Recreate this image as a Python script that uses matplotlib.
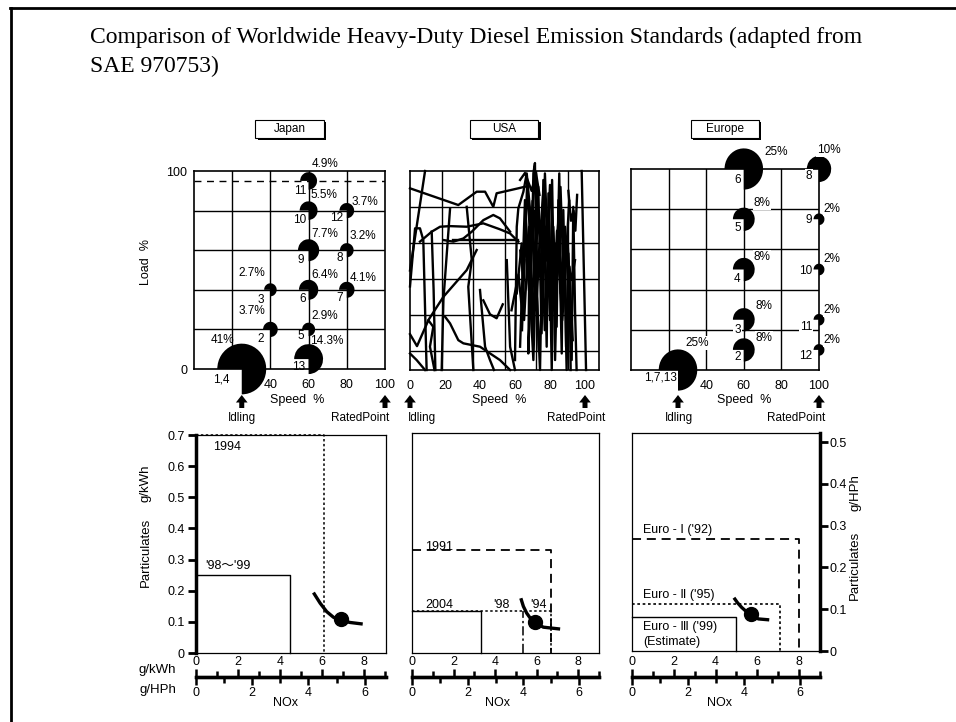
import numpy as np
import matplotlib
matplotlib.use("Agg")
import matplotlib.pyplot as plt
from matplotlib.patches import Wedge, Rectangle
from matplotlib.lines import Line2D
from matplotlib import transforms

W, H = 956, 722
plt.rcParams["font.family"] = ["Liberation Sans", "DejaVu Sans", "Noto Sans CJK JP"]
plt.rcParams["font.size"] = 9

# ---------------- 13-mode steady-state cycles ----------------
jp_modes = ["1,4", "2", "3", "5", "6", "7", "8", "9", "10", "11", "12", "13"]
jp_speed = [25, 40, 40, 60, 60, 80, 80, 60, 60, 60, 80, 60]
jp_load = [0, 20, 40, 20, 40, 40, 60, 60, 80, 95, 80, 5]
jp_weight = [41, 3.7, 2.7, 2.9, 6.4, 4.1, 3.2, 7.7, 5.5, 4.9, 3.7, 14.3]
jp_full_load = 95

eu_modes = ["1,7,13", "2", "3", "4", "5", "6", "8", "9", "10", "11", "12"]
eu_speed = [25, 60, 60, 60, 60, 60, 100, 100, 100, 100, 100]
eu_load = [0, 10, 25, 50, 75, 100, 100, 75, 50, 25, 10]
eu_weight = [25, 8, 8, 8, 8, 25, 10, 2, 2, 2, 2]

# ---------------- US transient cycle (speed %, load %) ----------------
usa_trace = [
    [(0, 91.3), (27.6, 82.9), (38.1, 89.6), (42.9, 89.6), (47.6, 82), (49.5, 88.8), (61.9, 91.3), (65.7, 92.1)],
    [(8.6, 100), (0, 50)],
    [(0, 42), (2.9, 71.2), (5.7, 71.2), (7.6, 65.3), (9.5, 0)],
    [(5.7, 64.5), (12.4, 69.5), (17.2, 72), (22.9, 72.3), (32.4, 72), (41.9, 73.7), (51.4, 70.7), (57.2, 68.6), (61.9, 64.5)],
    [(19.1, 65.3), (24.8, 64.5), (30.5, 66.1), (35.3, 69.5), (41.9, 75.3), (47.6, 77.9), (51.4, 76.2), (57.2, 69.5)],
    [(24.8, 65.3), (61.9, 65.3)],
    [(22.9, 81.2), (19.1, 35.2), (18.1, 0)],
    [(32.4, 82), (35.3, 55.2), (33.3, 41.8), (36.2, 0)],
    [(0, 8.3), (3.8, 5), (8.6, 0)],
    [(0, 18), (4, 12), (10.5, 25), (13.3, 21.7), (11.4, 11.7), (14, 0)],
    [(12.4, 69.5), (13.5, 40), (14.5, 0)],
    [(10.5, 25.1), (19.1, 36.8), (32.4, 50.2), (38.1, 60.3)],
    [(20, 26.8), (22.9, 23.4), (27.6, 15), (30.5, 13.4), (40, 11.7), (51.4, 5), (57.2, 0)],
    [(40, 40.2), (42.9, 11.7), (45.7, 5), (48, 0)],
    [(41.9, 35), (45.7, 28), (49.5, 26), (53, 33)],
    [(55.3, 55.2), (57.2, 11.7), (60, 0)],
    [(60, 5), (61, 72), (61.9, 81.2), (64.8, 89.6), (66.7, 98.8), (68.6, 80.4), (67.6, 8.3), (69.5, 55.2),
     (70.5, 98.8), (71.4, 104), (72.4, 38.5), (74.3, 0), (76.2, 95.5), (78.1, 11.7), (79.1, 88.8), (81, 0),
     (81.9, 72), (83.8, 21.7), (84.8, 85.4), (86.7, 8.3), (87.6, 80.4), (89.5, 0), (90.5, 58.6), (92.4, 5),
     (93.3, 82), (94.3, 30.1), (95.2, 0)],
    [(62.9, 11.7), (65.7, 85.4), (70.5, 5), (73.3, 92.1), (75.2, 18.4), (77.1, 98.8), (80, 25.1), (81.2, 95.5),
     (82.9, 5), (85.3, 98.8), (86.1, 38.5), (88.6, 72), (89.2, 11.7), (91.1, 51.9), (91.8, 0)],
    [(98.1, 100), (100.6, 0)],
    [(66.7, 55.2), (69.5, 30.1), (71.4, 63.6), (74.3, 46.9), (77.1, 72), (80, 41.8), (82.9, 63.6), (85.7, 46.9),
     (89.5, 58.6), (92.4, 45.2), (94.3, 55.2)],
    [(61, 38.5), (63.8, 63.6), (65.2, 25.1), (68.1, 72), (70, 18.4), (72, 60), (73.5, 10)],
    [(90.5, 90), (92, 75), (93.5, 80), (94.5, 70), (95.5, 88)],
    [(62.9, 95.5), (65.7, 99), (69.5, 90), (72, 99), (74, 88)],
    [(64, 20), (66, 70), (68, 40), (70, 85), (72, 30), (75, 75), (77, 20), (79, 60), (82, 30), (84, 70), (87, 25),
     (90, 65), (93, 15)],
    [(63, 60), (65, 45), (67, 95), (69, 60), (71, 80), (73, 50), (76, 88), (78, 55), (80, 93), (83, 50), (86, 92),
     (88, 40), (91, 85)],
    [(58, 30), (62, 48), (64, 30)],
]

# ---------------- Emission limits, g/kWh ----------------
jp_std_names = ["1994", "'98～'99"]
jp_std_nox = [6.1, 4.5]
jp_std_pm = [0.70, 0.25]
jp_curve_nox = [5.6, 5.92, 6.23, 6.55, 6.87, 7.35, 7.95]
jp_curve_pm = [0.194, 0.16, 0.133, 0.115, 0.105, 0.098, 0.093]
jp_engine = (6.9, 0.108)

us_std_names = ["1991", "'94", "'98", "2004"]
us_std_nox = [6.6, 6.6, 5.3, 3.3]
us_std_pm = [0.33, 0.134, 0.134, 0.134]
us_curve_nox = [5.18, 5.3, 5.46, 5.65, 5.86, 6.25, 7.05]
us_curve_pm = [0.176, 0.15, 0.128, 0.11, 0.097, 0.083, 0.077]
us_engine = (5.86, 0.099)

eu_std_names = ["Euro - Ⅰ ('92)", "Euro - Ⅱ ('95)", "Euro - Ⅲ ('99)\n(Estimate)"]
eu_std_nox = [8.0, 7.1, 5.0]
eu_std_pm = [0.36, 0.15, 0.11]
eu_curve_nox = [4.88, 5.05, 5.25, 5.45, 5.68, 6.05, 6.57]
eu_curve_pm = [0.171, 0.155, 0.14, 0.128, 0.117, 0.103, 0.10]
eu_engine = (5.68, 0.119)

HP_PER_KW = 0.7457  # g/HPh = g/kWh * 0.7457


def kwh_to_hph(v):
    return np.asarray(v) * HP_PER_KW


def hph_to_kwh(v):
    return np.asarray(v) / HP_PER_KW


fig = plt.figure(figsize=(W / 100, H / 100), dpi=100)


def fx(x):
    return x / W


def fy(y):
    return 1 - y / H


def px_axes(x0, y0, x1, y1):
    return fig.add_axes([fx(x0), fy(y1), (x1 - x0) / W, (y1 - y0) / H])


# slide frame and title
fig.add_artist(Line2D([fx(10), 1.0], [fy(7.5), fy(7.5)], transform=fig.transFigure, color="k", lw=2.0))
fig.add_artist(Line2D([fx(10.5), fx(10.5)], [fy(7.5), 0], transform=fig.transFigure, color="k", lw=2.0))
fig.text(fx(90), fy(42.5), "Comparison of Worldwide Heavy-Duty Diesel Emission Standards (adapted from",
         family="Liberation Serif", fontsize=17, va="baseline", ha="left")
fig.text(fx(90), fy(72), "SAE 970753)", family="Liberation Serif", fontsize=17, va="baseline", ha="left")


def region_tag(ax, text):
    pos = ax.get_position()
    cx = (pos.x0 + pos.x1) / 2 * W
    w, h, cy = 68, 18, 129
    fig.add_artist(Rectangle((fx(cx - w / 2 + 2), fy(cy + h / 2 + 2)), w / W, h / H,
                             transform=fig.transFigure, facecolor="k", edgecolor="none"))
    fig.add_artist(Rectangle((fx(cx - w / 2), fy(cy + h / 2)), w / W, h / H,
                             transform=fig.transFigure, facecolor="white", edgecolor="k", lw=0.8))
    fig.text(fx(cx), fy(cy), text, ha="center", va="center", fontsize=8.5)


def speed_grid(ax, xs, ys):
    for v in xs:
        ax.axvline(v, color="k", lw=1.0, zorder=1)
    for v in ys:
        ax.axhline(v, color="k", lw=1.0, zorder=1)
    for s in ax.spines.values():
        s.set_linewidth(1.2)
    ax.tick_params(length=0, pad=7, labelsize=9)


def draw_modes(ax, modes, speed, load, weight, num_off, pct_off, scale, boxed):
    for m, s, l, w, no, po in zip(modes, speed, load, weight, num_off, pct_off):
        ax.add_patch(Wedge((s, l), scale * np.sqrt(w), -90, 180, facecolor="k", edgecolor="none",
                           zorder=4, clip_on=False))
        bb = dict(facecolor="white", edgecolor="none", pad=0.6) if boxed else None
        ax.annotate(m, (s, l), xytext=(no[0], -no[1]), textcoords="offset pixels", ha="right", va="center",
                    fontsize=8.5, zorder=5, annotation_clip=False, bbox=bb)
        ax.annotate(f"{w:g}%", (s, l), xytext=(po[0], -po[1]), textcoords="offset pixels", ha="center",
                    va="center", fontsize=8.5, zorder=5, annotation_clip=False, bbox=bb)


ARROW = dict(arrowstyle="simple,head_length=0.45,head_width=0.7,tail_width=0.3", fc="k", ec="none",
             mutation_scale=12, shrinkA=0, shrinkB=0)


def cycle_marks(ax, idle_x, idle_label_dx, rated_x, rated_label_dx, speed_label_x):
    tr = transforms.blended_transform_factory(ax.transData, fig.transFigure)
    for x in (idle_x, rated_x):
        ax.annotate("", xy=(x, fy(395)), xytext=(x, fy(408)), xycoords=tr, textcoords=tr,
                    arrowprops=ARROW, annotation_clip=False)
    ax.annotate("Idling", (idle_x, fy(418)), xycoords=tr, xytext=(idle_label_dx, 0), textcoords="offset pixels",
                ha="center", va="center", fontsize=8.5, annotation_clip=False)
    ax.annotate("RatedPoint", (rated_x, fy(418)), xycoords=tr, xytext=(rated_label_dx, 0),
                textcoords="offset pixels", ha="center", va="center", fontsize=8.5, annotation_clip=False)
    ax.text(speed_label_x, fy(400), "Speed  %", transform=tr, ha="center", va="center", fontsize=9)


# ---------------- Japan: 13-mode ----------------
axj = px_axes(194, 171, 385, 369)
axj.set_xlim(0, 100)
axj.set_ylim(0, 100)
speed_grid(axj, [20, 40, 60, 80], [20, 40, 60, 80])
axj.axhline(jp_full_load, color="k", lw=1.0, ls=(0, (5, 4)), zorder=2)
axj.set_xticks([40, 60, 80, 100])
axj.set_yticks([0, 100])
axj.tick_params(axis="y", pad=5)
jp_num_off = [(-12, 10), (-6, 10), (-6, 10), (-4, 7), (-3, 9), (-4, 8), (-4, 8), (-5, 10), (-2, 9), (-2, 10),
              (-4, 7), (-3, 8)]
jp_pct_off = [(-19, -29), (-18, -18), (-19, -17), (16, -13), (16, -15), (16, -12), (16, -14), (16, -16),
              (15, -16), (16, -17), (18, -9), (18, -18)]
draw_modes(axj, jp_modes, jp_speed, jp_load, jp_weight, jp_num_off, jp_pct_off, 2.0, False)
fig.text(fx(146), fy(262), "Load  %", rotation=90, ha="center", va="center", fontsize=9)
region_tag(axj, "Japan")
cycle_marks(axj, 25, 0, 100, -25, 54)

# ---------------- USA: transient cycle ----------------
axu = px_axes(410, 171, 599, 370)
axu.set_xlim(0, 108)
axu.set_ylim(0, 100)
speed_grid(axu, np.linspace(0, 108, 7)[1:-1], [100 - 18.1 * k for k in range(1, 6)])
for seg in usa_trace:
    s, l = zip(*seg)
    axu.plot(s, l, color="k", lw=1.7, zorder=3, clip_on=False)
axu.set_xticks([0, 20, 40, 60, 80, 100])
axu.set_yticks([])
region_tag(axu, "USA")
cycle_marks(axu, 0, 12, 100, -9, 51)

# ---------------- Europe: ECE R49 13-mode ----------------
axe = px_axes(631, 169, 819, 370)
axe.set_xlim(0, 100)
axe.set_ylim(0, 100)
speed_grid(axe, [20, 40, 60, 80], [20, 40, 60, 80])
axe.set_xticks([40, 60, 80, 100])
axe.set_yticks([])
eu_num_off = [(-1, 8), (-3, 7), (-3, 10), (-3, 9), (-3, 9), (-3, 11), (-7, 7), (-7, 1), (-7, 1), (-7, 7), (-7, 6)]
eu_pct_off = [(19, -27), (20, -12), (20, -14), (18, -13), (18, -16), (32, -17), (10, -19), (13, -10), (13, -10),
              (13, -10), (13, -10)]
draw_modes(axe, eu_modes, eu_speed, eu_load, eu_weight, eu_num_off, eu_pct_off, 2.05, True)
region_tag(axe, "Europe")
cycle_marks(axe, 25, 1, 100, -23, 60)


# ---------------- NOx / particulate limits ----------------
def pm_panel(x0, y0, x1, y1, xmax, ymax):
    ax = px_axes(x0, y0, x1, y1)
    ax.set_xlim(0, xmax)
    ax.set_ylim(0, ymax)
    for s in ax.spines.values():
        s.set_linewidth(0.9)
    ax.set_xticks([])
    ax.set_yticks([])
    return ax


def nox_ruler(ax, y_px, label_x):
    pos = ax.get_position()
    r = fig.add_axes([pos.x0, fy(y_px), pos.width, 1e-5])
    r.set_xlim(ax.get_xlim())
    r.set_ylim(0, 1)
    for s in ("left", "right", "top"):
        r.spines[s].set_visible(False)
    r.spines["bottom"].set_linewidth(2.4)
    r.set_yticks([])
    r.xaxis.set_ticks_position("top")
    r.set_xticks([0, 2, 4, 6, 8])
    r.set_xticks(range(0, 10), minor=True)
    r.tick_params(axis="x", which="major", direction="out", length=6, width=1.8, labelsize=9, pad=0.5)
    r.tick_params(axis="x", which="minor", direction="out", length=4, width=1.8)
    sec = r.secondary_xaxis("bottom", functions=(kwh_to_hph, hph_to_kwh))
    sec.set_xticks([0, 2, 4, 6])
    sec.set_xticks(range(0, 7), minor=True)
    sec.spines["bottom"].set_linewidth(2.4)
    sec.tick_params(axis="x", which="major", direction="out", length=6, width=1.8, labelsize=9, pad=1)
    sec.tick_params(axis="x", which="minor", direction="out", length=4, width=1.8)
    fig.text(fx(label_x), fy(703), "NOx", ha="center", va="center", fontsize=9)


def limit_box(ax, nox, pm, style, lw):
    ax.plot([0, nox, nox], [pm, pm, 0], color="k", ls=style, lw=lw, zorder=2, clip_on=False)


def trade_off(ax, cn, cp, pt):
    ax.plot(cn, cp, color="k", lw=2.4, zorder=4, solid_capstyle="butt")
    ax.plot([pt[0]], [pt[1]], "o", color="k", ms=10, zorder=5)


DOT = (0, (1.6, 1.6))
DASH = (0, (5, 3.2))

# Japan
bj = pm_panel(196, 435, 386, 653, 9.06, 0.70)
bj.spines["left"].set_linewidth(2.5)
bj.set_yticks(np.arange(0, 0.71, 0.1))
bj.set_yticklabels(["0"] + [f"{v:.1f}" for v in np.arange(0.1, 0.71, 0.1)])
bj.tick_params(axis="y", direction="out", length=6, width=2, labelsize=9, pad=2)
limit_box(bj, jp_std_nox[0], jp_std_pm[0], DOT, 1.1)
limit_box(bj, jp_std_nox[1], jp_std_pm[1], "-", 1.0)
bj.text(0.8, 0.662, jp_std_names[0], ha="left", va="center", fontsize=9)
bj.text(0.43, 0.278, jp_std_names[1], ha="left", va="center", fontsize=9)
trade_off(bj, jp_curve_nox, jp_curve_pm, jp_engine)
nox_ruler(bj, 677, 285)
fig.text(fx(146), fy(552), "Particulates", rotation=90, ha="center", va="center", fontsize=9.5)
fig.text(fx(146), fy(483), "g/kWh", rotation=90, ha="center", va="center", fontsize=9.5)
fig.text(fx(176), fy(670), "g/kWh", ha="right", va="center", fontsize=9.5)
fig.text(fx(176), fy(690), "g/HPh", ha="right", va="center", fontsize=9.5)

# USA
bu = pm_panel(412, 433, 599, 653, 8.9, 0.707)
limit_box(bu, us_std_nox[0], us_std_pm[0], DASH, 1.3)
limit_box(bu, us_std_nox[1], us_std_pm[1], DOT, 1.1)
bu.plot([us_std_nox[2], us_std_nox[2]], [0, us_std_pm[2]], color="k", lw=1.1, ls=(0, (6, 2, 1.5, 2)), zorder=2)
limit_box(bu, us_std_nox[3], us_std_pm[3], "-", 1.0)
bu.text(0.62, 0.342, us_std_names[0], ha="left", va="center", fontsize=9)
bu.text(5.65, 0.154, us_std_names[1], ha="left", va="center", fontsize=9)
bu.text(3.86, 0.154, us_std_names[2], ha="left", va="center", fontsize=9)
bu.text(0.62, 0.154, us_std_names[3], ha="left", va="center", fontsize=9)
trade_off(bu, us_curve_nox, us_curve_pm, us_engine)
nox_ruler(bu, 677, 497)

# Europe
be = pm_panel(632, 433, 820, 651, 9.0, 0.70)
sy = be.secondary_yaxis("right", functions=(kwh_to_hph, hph_to_kwh))
sy.set_yticks([0, 0.1, 0.2, 0.3, 0.4, 0.5])
sy.set_yticklabels(["0", "0.1", "0.2", "0.3", "0.4", "0.5"])
sy.spines["right"].set_linewidth(2.5)
sy.tick_params(axis="y", direction="out", length=6, width=2, labelsize=9, pad=1)
limit_box(be, eu_std_nox[0], eu_std_pm[0], DASH, 1.3)
limit_box(be, eu_std_nox[1], eu_std_pm[1], DOT, 1.2)
limit_box(be, eu_std_nox[2], eu_std_pm[2], "-", 1.0)
be.text(0.54, 0.389, eu_std_names[0], ha="left", va="center", fontsize=9)
be.text(0.54, 0.18, eu_std_names[1], ha="left", va="center", fontsize=9)
be.text(0.54, 0.053, eu_std_names[2], ha="left", va="center", fontsize=9, linespacing=1.25)
trade_off(be, eu_curve_nox, eu_curve_pm, eu_engine)
nox_ruler(be, 677, 720)
fig.text(fx(855), fy(565), "Particulates", rotation=90, ha="center", va="center", fontsize=9.5)
fig.text(fx(855), fy(493), "g/HPh", rotation=90, ha="center", va="center", fontsize=9.5)

fig.savefig("out.png", dpi=100)
